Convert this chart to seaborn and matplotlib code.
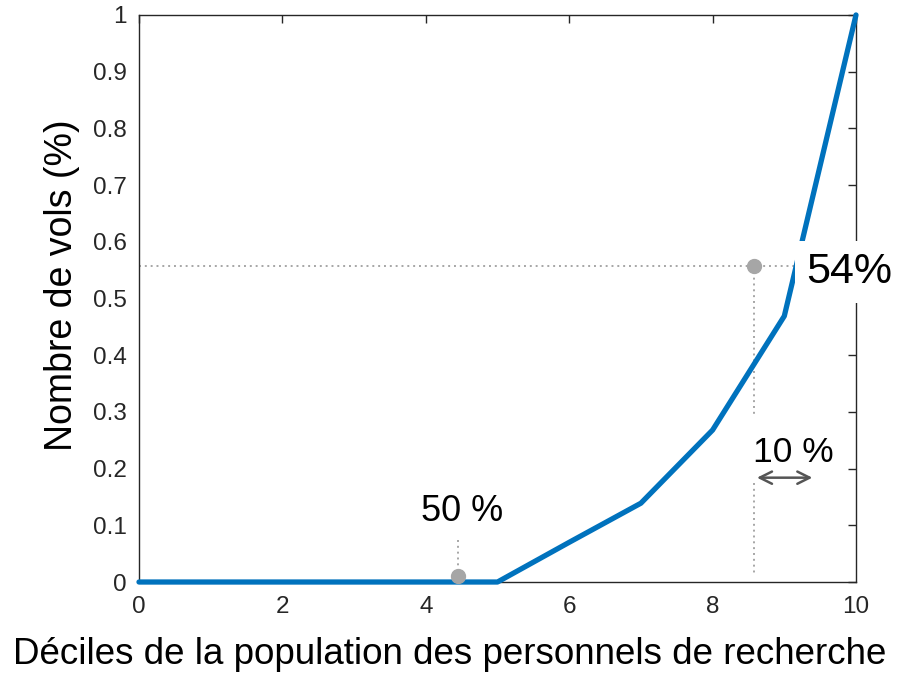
import numpy as np
import pandas as pd
import matplotlib
matplotlib.use("Agg")
import matplotlib.pyplot as plt
import seaborn as sns

# deciles and cumulative share of flights
deciles = [0, 1, 2, 3, 4, 5, 6, 7, 8, 9, 10]
vols = [0, 0, 0, 0, 0, 0, 0.07, 0.139, 0.268, 0.469, 1.0]

x_ticks = [0, 2, 4, 6, 8, 10]
y_ticks = [0, 0.1, 0.2, 0.3, 0.4, 0.5, 0.6, 0.7, 0.8, 0.9, 1]
y_tick_labels = ["0", "0.1", "0.2", "0.3", "0.4", "0.5", "0.6", "0.7", "0.8", "0.9", "1"]

# annotation points
p50 = (4.45, 0.01)
p54 = (8.58, 0.557)

sns.set_style("white")
plt.rcParams["font.family"] = ["Liberation Sans", "DejaVu Sans"]

df = pd.DataFrame({"decile": deciles, "vols": vols})

fig = plt.figure(figsize=(9.12, 6.8), dpi=100)
ax = fig.add_axes([0.1524, 0.1441, 0.7862, 0.8339])

sns.lineplot(data=df, x="decile", y="vols", ax=ax, color="#0072BD",
             linewidth=3.8, clip_on=False, zorder=3)

grey = "#a6a6a6"
dot = dict(color=grey, linestyle=(0, (1, 2)), linewidth=1.4, zorder=2)

# 54% guide lines
ax.plot([0, 9.17], [p54[1], p54[1]], **dot)
ax.plot([p54[0], p54[0]], [p54[1], 0.295], **dot)
ax.plot([p54[0], p54[0]], [0.175, 0.012], **dot)
ax.plot(*p54, "o", color=grey, markersize=10, zorder=4)

# 50% marker
ax.plot([p50[0], p50[0]], [0.074, p50[1]], **dot)
ax.plot(*p50, "o", color=grey, markersize=10, zorder=4, clip_on=False)

ax.annotate("", xy=(9.43, 0.184), xytext=(p54[0], 0.184),
            arrowprops=dict(arrowstyle="<->", color="#555555", lw=1.8,
                            mutation_scale=22))

ax.text(9.12, 0.229, "10 %", fontsize=25.5, ha="center", va="center", color="black")
ax.text(4.5, 0.125, "50 %", fontsize=26, ha="center", va="center", color="black")
ax.text(9.9, 0.547, "54%", fontsize=31, ha="center", va="center", zorder=6,
        clip_on=False, color="black",
        bbox=dict(boxstyle="square,pad=0.25", facecolor="white", edgecolor="none"))

ax.set_xlim(0, 10)
ax.set_ylim(0, 1)
ax.set_xticks(x_ticks)
ax.set_yticks(y_ticks)
ax.set_yticklabels(y_tick_labels)
ax.tick_params(direction="in", length=6, width=1, colors="#262626",
               labelsize=17.5, top=True, right=True)
ax.tick_params(axis="x", pad=10)
ax.tick_params(axis="y", pad=9)
for s in ax.spines.values():
    s.set_color("#262626")
    s.set_linewidth(1)
    s.set_visible(True)
ax.set_xlabel("")
ax.set_ylabel("")

fig.text(0.493, 0.037, "Déciles de la population des personnels de recherche",
         fontsize=26.5, ha="center", va="center", color="black")
fig.text(0.068, 0.58, "Nombre de vols (%)", fontsize=27, rotation=90,
         ha="center", va="center", color="black")

fig.savefig("out.png", dpi=100)
